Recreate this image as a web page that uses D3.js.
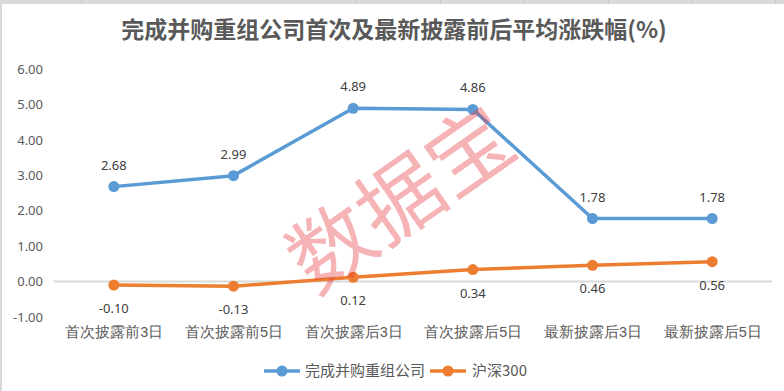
<!DOCTYPE html>
<html><head><meta charset="utf-8">
<script src="https://cdn.jsdelivr.net/npm/d3@7/dist/d3.min.js"></script>
<style>
html,body{margin:0;padding:0;background:#fff;}
svg{display:block;font-family:"Noto Sans CJK SC","Noto Sans",sans-serif;}
</style></head>
<body>
<svg id="chart" width="784" height="391"></svg>
<script>
const categories = ["首次披露前3日","首次披露前5日","首次披露后3日","首次披露后5日","最新披露后3日","最新披露后5日"];
const seriesNames = ["完成并购重组公司","沪深300"];
const mergerValues = [2.68, 2.99, 4.89, 4.86, 1.78, 1.78];
const hs300Values = [-0.10, -0.13, 0.12, 0.34, 0.46, 0.56];
const yTicks = [-1, 0, 1, 2, 3, 4, 5, 6];
const title = "完成并购重组公司首次及最新披露前后平均涨跌幅(%)";
const watermark = "数据宝";
const colors = ["#5B9BD5", "#ED7D31"];

const svg = d3.select("#chart");
const W = 784, H = 391;
const fmt = d3.formatLocale({decimal:".", thousands:",", grouping:[3], currency:["",""], minus:"-"}).format(".2f");

// frame artifacts
svg.append("rect").attr("x",0).attr("y",0).attr("width",W).attr("height",4).attr("fill","#d9d9d9");
svg.append("rect").attr("x",0).attr("y",0).attr("width",2).attr("height",H).attr("fill","#d9d9d9");
[81,355,440,524,608,692,775].forEach(x=>{
  svg.append("rect").attr("x",x).attr("y",0).attr("width",1).attr("height",4).attr("fill","#c8c8c8");
});

const x = d3.scalePoint().domain(categories).range([54, 772]).padding(0.5);
const y = d3.scaleLinear().domain([-1, 6]).range([317, 69]);

// title
svg.append("text").attr("x", 394).attr("y", 38).attr("text-anchor","middle")
  .attr("font-size", 23).attr("font-weight","bold").attr("fill","#595959").text(title);

// y axis
const yAxis = svg.append("g").attr("transform","translate(47,0)")
  .call(d3.axisLeft(y).tickValues(yTicks).tickFormat(fmt).tickSizeInner(0).tickSizeOuter(0).tickPadding(4));
yAxis.select(".domain").remove();
yAxis.selectAll("text").attr("font-size",13).attr("fill","#595959").attr("font-family","'Noto Sans','DejaVu Sans',sans-serif");

// zero line
svg.append("line").attr("x1",54).attr("x2",772).attr("y1",y(0)).attr("y2",y(0))
  .attr("stroke","#d9d9d9").attr("stroke-width",2);

// x axis
const xAxis = svg.append("g").attr("transform","translate(0,322)")
  .call(d3.axisBottom(x).tickSize(0).tickPadding(5));
xAxis.select(".domain").remove();
xAxis.selectAll("text").attr("font-size",14.5).attr("fill","#595959");

const series = [mergerValues, hs300Values];
const line = d3.line().x((d,i)=>x(categories[i])).y(d=>y(d));

series.forEach((vals, si)=>{
  svg.append("path").datum(vals).attr("d", line).attr("fill","none")
    .attr("stroke", colors[si]).attr("stroke-width",3.5).attr("stroke-linejoin","round");
  svg.selectAll(null).data(vals).enter().append("circle")
    .attr("cx",(d,i)=>x(categories[i])).attr("cy",d=>y(d)).attr("r",5.5).attr("fill",colors[si]);
  svg.selectAll(null).data(vals).enter().append("text")
    .attr("x",(d,i)=>x(categories[i]))
    .attr("y",d=> si===0 ? y(d)-17 : y(d)+28)
    .attr("text-anchor","middle").attr("font-size",13).attr("fill","#404040")
    .attr("font-family","'Noto Sans','DejaVu Sans',sans-serif")
    .text(d=>fmt(d));
});

// legend
const legendItems = [{x:264, tx:305},{x:430, tx:472}];
legendItems.forEach((l,i)=>{
  svg.append("line").attr("x1",l.x).attr("x2",l.x+36).attr("y1",371).attr("y2",371)
    .attr("stroke",colors[i]).attr("stroke-width",3.5);
  svg.append("circle").attr("cx",l.x+18).attr("cy",371).attr("r",5.5).attr("fill",colors[i]);
  svg.append("text").attr("x",l.tx).attr("y",376).attr("font-size",15).attr("fill","#595959").text(seriesNames[i]);
});

// watermark
svg.append("text").attr("transform","translate(397,194) rotate(-35)")
  .attr("text-anchor","middle").attr("dominant-baseline","central")
  .attr("font-size",84).attr("fill","#e8383d").attr("fill-opacity",0.38).text(watermark);
</script>
</body></html>
